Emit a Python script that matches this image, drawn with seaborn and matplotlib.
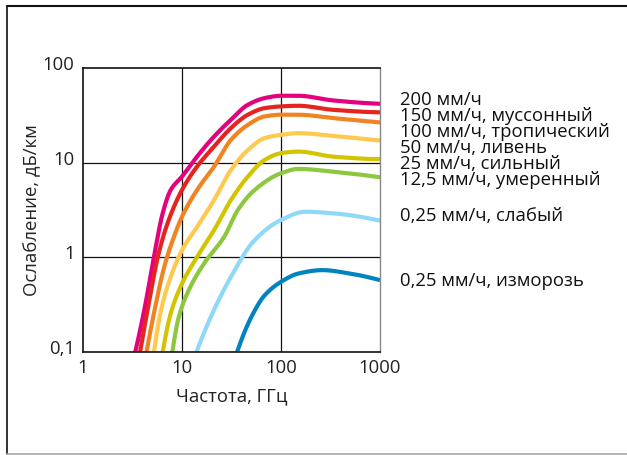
import numpy as np
import pandas as pd
import matplotlib
matplotlib.use("Agg")
import matplotlib.pyplot as plt
import matplotlib.transforms as mtransforms
import seaborn as sns
from matplotlib.lines import Line2D

sns.set_theme(style="white")
plt.rcParams['font.family'] = ['Open Sans', 'DejaVu Sans']

# ---- data ----
labels = ["200 мм/ч", "150 мм/ч, муссонный", "100 мм/ч, тропический",
          "50 мм/ч, ливень", "25 мм/ч, сильный", "12,5 мм/ч, умеренный",
          "0,25 мм/ч, слабый", "0,25 мм/ч, изморозь"]

f_200 = [3.37, 4.22, 5.28, 6.38, 7.69, 10, 14.2, 21.1, 31.2, 46.3, 68.5, 100, 150, 331, 1000]
a_200 = [0.1, 0.30, 1.10, 2.92, 5.15, 7.13, 11.6, 18.9, 28.4, 40.9, 48.1, 50.9, 50.9, 45.5, 41.9]

f_150 = [3.77, 4.55, 5.70, 7.13, 10, 14.2, 21.1, 31.2, 46.3, 68.5, 100, 150, 331, 1000]
a_150 = [0.1, 0.30, 1.01, 2.28, 5.15, 9.1, 14.8, 23.2, 32.1, 37.7, 39.3, 39.9, 36.2, 34.0]

f_100 = [4.38, 5.28, 6.62, 8.29, 10, 14.2, 21.1, 31.2, 46.3, 68.5, 100, 150, 331, 1000]
a_100 = [0.1, 0.276, 0.794, 1.65, 2.69, 5.15, 9.1, 17.4, 25.1, 30.8, 32.1, 32.1, 29.6, 26.6]

f_50 = [5.21, 6.14, 7.69, 10, 14.2, 21.1, 31.2, 46.3, 68.5, 100, 150, 331, 1000]
a_50 = [0.1, 0.276, 0.622, 1.19, 2.10, 4.03, 8.38, 13.6, 18.2, 19.7, 20.5, 19.2, 17.1]

f_25 = [6.38, 7.69, 10, 14.2, 21.1, 31.2, 46.3, 68.5, 100, 150, 331, 1000]
a_25 = [0.1, 0.255, 0.528, 1.01, 1.94, 4.03, 7.13, 10.7, 12.6, 13.1, 11.6, 10.9]

f_12 = [7.98, 9.28, 11.7, 16.7, 26.7, 36.6, 54.2, 100, 150, 331, 1000]
a_12 = [0.1, 0.234, 0.45, 0.86, 1.65, 3.16, 5.15, 7.73, 8.59, 8.05, 7.01]

f_025 = [14.0, 19.5, 31.2, 54.2, 100, 176, 331, 1000]
a_025 = [0.1, 0.234, 0.622, 1.52, 2.48, 3.03, 2.92, 2.44]

f_frost = [36.0, 50.1, 68.5, 100, 150, 262, 492, 1000]
a_frost = [0.1, 0.234, 0.398, 0.551, 0.675, 0.733, 0.675, 0.574]

colors = ["#E5007D", "#E52420", "#F18421", "#FFC94F", "#D2C500",
          "#8DC63F", "#8ED8F8", "#0083C1"]

x_ticks = [1, 10, 100, 1000]
x_ticklabels = ["1", "10", "100", "1000"]
y_ticks = [0.1, 1, 10, 100]
y_ticklabels = ["0,1", "1", "10", "100"]
x_label = "Частота, ГГц"
y_label = "Ослабление, дБ/км"

series = [(f_200, a_200), (f_150, a_150), (f_100, a_100), (f_50, a_50),
          (f_25, a_25), (f_12, a_12), (f_025, a_025), (f_frost, a_frost)]

W, H = 627, 455
FS = 13.3
fig = plt.figure(figsize=(W / 100, H / 100), dpi=100)
fig.patch.set_facecolor("white")
ax = fig.add_axes([83 / W, 1 - 352 / H, (380 - 83) / W, (352 - 68) / H])

# smooth interpolation in log-log space between the read points
smooth_rows = []
for lab, (fs, as_) in zip(labels, series):
    lf = np.log10(fs)
    la = np.log10(as_)
    t = np.linspace(lf[0], lf[-1], 300)
    try:
        from scipy.interpolate import PchipInterpolator
        yy = PchipInterpolator(lf, la)(t)
    except Exception:
        yy = np.interp(t, lf, la)
    for a_, b_ in zip(t, yy):
        smooth_rows.append({"f": 10 ** a_, "a": 10 ** b_, "series": lab})
sdf = pd.DataFrame(smooth_rows)

sns.lineplot(data=sdf, x="f", y="a", hue="series", palette=colors,
             hue_order=labels, linewidth=3.0, ax=ax, legend=False,
             sort=False, estimator=None, solid_capstyle="butt")

ax.set_xscale("log")
ax.set_yscale("log")
ax.set_xlim(1, 1000)
ax.set_ylim(0.1, 100)
ax.set_xticks(x_ticks)
ax.set_xticklabels(x_ticklabels)
ax.set_yticks(y_ticks)
ax.set_yticklabels(y_ticklabels)
ax.minorticks_off()
ax.tick_params(axis="x", length=0, labelsize=FS, colors="#222222", pad=5)
ax.tick_params(axis="y", length=0, labelsize=FS, colors="#222222", pad=6)
off = mtransforms.ScaledTranslation(0, 5 / 100, fig.dpi_scale_trans)
for lab in ax.get_yticklabels():
    lab.set_transform(lab.get_transform() + off)
ax.set_xlabel(x_label, fontsize=FS, color="#222222")
ax.set_ylabel(y_label, fontsize=FS, color="#222222")
ax.yaxis.set_label_coords((41 - 83) / (380 - 83), 0.5)
ax.xaxis.set_label_coords(0.5, -(387 - 352) / (352 - 68))

for v in [10, 100]:
    ax.axvline(v, color="#111111", lw=0.9, zorder=0)
for v in [1, 10]:
    ax.axhline(v, color="#111111", lw=0.9, zorder=0)

for side in ["left", "bottom", "top"]:
    ax.spines[side].set_color("#111111")
    ax.spines[side].set_linewidth(1.2)
ax.spines["right"].set_color("#888888")
ax.spines["right"].set_linewidth(1.0)

label_y = [100, 116, 132, 148, 164, 180, 216, 281]
for lab, yp in zip(labels, label_y):
    fig.text(400 / W, 1 - yp / H, lab, fontsize=FS, color="#111111",
             ha="left", va="center")

# outer frame
fig.add_artist(Line2D([7 / W, 7 / W], [1 - 6 / H, 1 - 454 / H],
                      transform=fig.transFigure, color="#111111", lw=1.2))
fig.add_artist(Line2D([7 / W, 1.0], [1 - 6 / H, 1 - 6 / H],
                      transform=fig.transFigure, color="#111111", lw=1.5))
fig.add_artist(Line2D([7 / W, 1.0], [1 - 454 / H, 1 - 454 / H],
                      transform=fig.transFigure, color="#aaaaaa", lw=1.2))

fig.savefig("out.png", dpi=100, facecolor="white")
